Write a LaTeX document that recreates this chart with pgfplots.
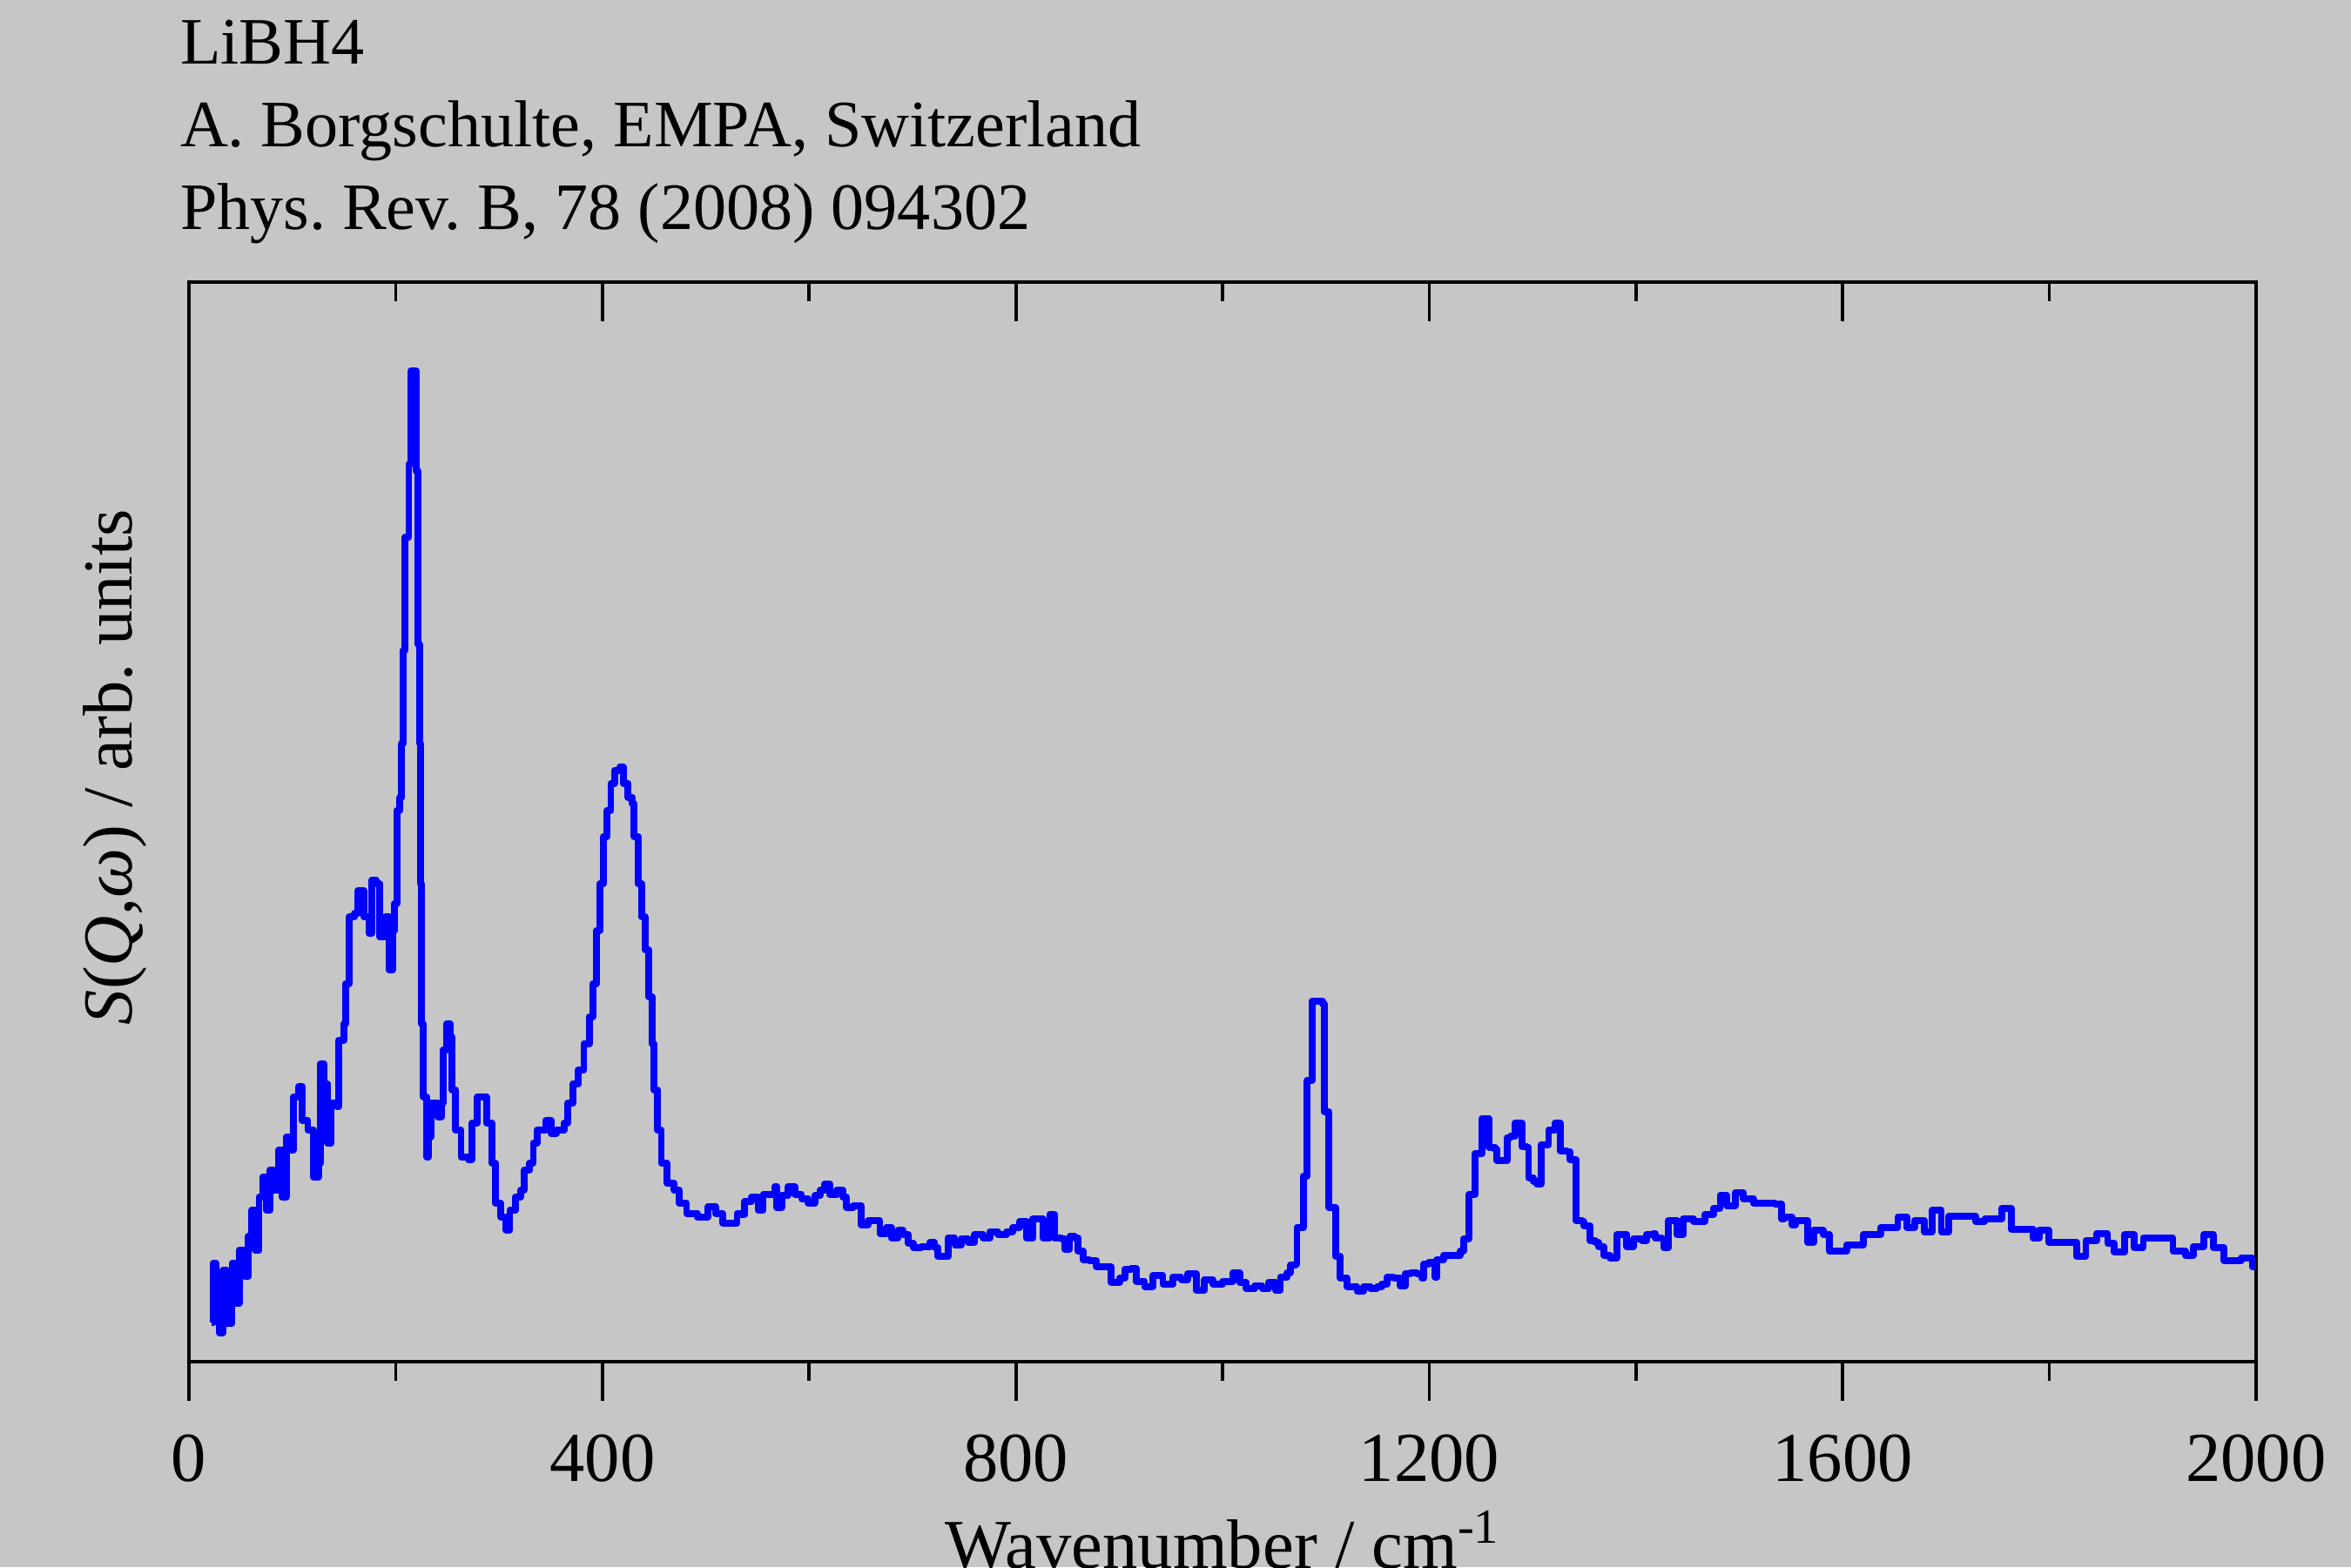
\documentclass[border=0pt]{standalone}
\usepackage{pgfplots}
\pgfplotsset{compat=1.18}
\usepackage{fontspec}
\setmainfont{Liberation Serif}
\definecolor{bg}{RGB}{198,198,198}
\definecolor{curve}{RGB}{0,0,255}
\begin{document}
\frenchspacing
\begin{tikzpicture}
\path[use as bounding box, fill=bg] (-57.9pt,-63pt) rectangle (662.1pt,417pt);
\pgfplotsset{
  myaxis/.style={
    at={(0pt,0pt)}, anchor=south west, scale only axis,
    width=633pt, height=330.6pt,
    xmin=0, xmax=2000, ymin=0, ymax=1240,
    axis line style={line width=1.2pt, black},
    xtick={0,400,...,2000}, minor xtick={200,600,...,1800},
    ytick=\empty,
    major tick length=12pt, minor tick length=6pt,
    tick style={line width=1pt, black},
    /pgf/number format/assume math mode=true,
    /pgf/number format/1000 sep={},
  }
}
\begin{axis}[myaxis, xtick pos=top, tick align=inside, xticklabels={}]
\end{axis}
\begin{axis}[myaxis, xtick pos=bottom, tick align=outside,
  xticklabel style={font=\fontsize{21.5}{25}\selectfont, anchor=base, yshift=-24.7pt}]
\addplot[const plot, color=curve, line width=2.1pt, line join=round] coordinates {
(21.5,45)(23.4,113)(26.0,60)(29.3,33)(32.8,105)(36.3,44)(41.6,113)(45.0,67)(48.5,128)(53.8,98)
(57.3,144)(60.8,174)(64.2,128)(67.7,189)(71.2,212)(74.7,174)(78.2,220)(81.7,197)(86.9,243)(90.4,189)
(93.9,258)(97.4,243)(100.9,304)(106.1,316)(109.6,277)(114.9,266)(120.1,212)(125.3,228)(127.1,342)(130.6,319)
(134.1,251)(137.6,297)(142.8,293)(144.5,369)(149.8,388)(151.5,434)(155.0,511)(160.3,515)(163.7,541)(169.0,511)
(174.2,492)(177.0,553)(181.2,549)(184.7,488)(189.9,511)(193.4,450)(196.9,495)(198.7,526)(201.1,633)(203.9,648)
(205.6,710)(207.4,817)(209.1,947)(212.6,1031)(214.4,1138)(219.6,1023)(221.3,824)(223.1,710)(224.1,549)(224.8,388)
(226.6,304)(230.1,235)(231.8,258)(234.3,297)(240.5,281)(244.0,297)(245.8,358)(249.3,388)(252.8,373)(254.5,312)
(258.0,266)(263.2,235)(270.2,232)(273.7,274)(278.9,304)(284.2,304)(287.7,274)(292.9,228)(296.4,182)(301.6,166)
(306.9,151)(310.4,174)(315.6,189)(320.8,197)(324.3,220)(329.6,228)(333.1,251)(336.6,266)(345.3,277)(350.5,262)
(355.7,266)(362.7,274)(366.2,297)(371.5,319)(376.7,335)(382.0,365)(387.2,396)(390.7,434)(394.2,495)(397.6,549)
(401.1,603)(404.6,633)(408.1,664)(411.6,679)(416.8,683)(420.3,664)(424.9,648)(429.1,641)(430.8,603)(434.3,549)
(437.8,511)(441.3,473)(444.8,419)(448.3,365)(450.0,312)(453.5,266)(457.0,228)(462.2,205)(469.2,197)(474.4,182)
(481.4,170)(491.9,166)(502.4,178)(509.4,170)(516.3,159)(525.1,159)(530.3,170)
(533,169)(537.8,184)(544.3,189)(550.7,174)(555.6,192)(562,192)(566.8,201)(568.5,177)(573.3,191)(579.7,201)
(586.2,192)(592.6,187)(599.1,182)(605.5,191)(610.4,197)(615.2,204)(620,192)(626.5,197)(632.9,189)(636.1,177)
(642.6,179)(649,179)(650.6,157)(657.1,162)(663.5,162)(668.4,147)(674.8,154)(679.6,142)(686.1,151)(690.9,146)
(695.8,136)(700.6,131)(708.7,132)(716.7,137)(721.5,131)(724.8,121)(729.6,121)(734.4,142)(740.9,134)(747.3,141)
(753.8,137)(760.2,146)(768.3,142)(774.7,149)(782.8,146)(790.8,149)(797.3,154)(803.7,161)(810.2,142)(816.6,164)
(821.5,164)(826.3,142)(832.7,169)(837.6,142)(844,141)(847.2,129)(852.1,144)(856.9,142)(860.1,127)(865,117)
(871.4,116)(877.9,109)(887.5,109)(892.4,91)(900.4,96)(905.3,106)(911.7,107)(916.5,92)(924.6,86)(932.7,99)
(942.3,89)(952,97)(960,94)(966.5,101)(974.6,82)(982.6,94)(990.7,89)(1000.3,92)(1010,102)(1016.5,91)
(1022.9,84)(1031,87)
(1038.3,84)(1044.7,91)(1051.2,82)(1056,97)(1062.5,102)(1065.7,111)(1070.5,112)(1072,154)(1078,213)(1082,323)
(1086.6,414)(1096.8,411)(1098.3,287)(1103,177)(1109.2,121)(1114,96)(1120.5,86)(1130.2,81)(1136.6,86)(1143.1,84)
(1149.5,86)(1154.3,89)(1159.2,97)(1165.6,96)(1172.1,87)(1176.9,101)(1181.7,102)(1188.2,101)(1193,96)(1194.6,112)
(1199.5,114)(1205.9,97)(1207.5,117)(1213.9,122)(1223.6,122)(1230.1,127)(1233.3,141)(1238.5,192)(1244.6,239)(1251,279)
(1258,246)(1263.9,244)(1265.5,231)(1272,231)(1275.2,257)(1278.4,259)(1283,274)(1289.7,247)(1294.5,246)(1296.1,211)
(1301,207)(1304.2,204)(1308,249)(1313.9,249)(1315.5,266)(1321.9,274)(1326.8,242)(1333.2,241)(1336.4,232)(1342,162)
(1347.7,161)(1349.3,156)(1355.8,139)(1360.6,137)(1363.8,132)(1368.7,122)(1375.1,119)(1381.5,146)(1389.6,146)(1391.2,132)
(1397.7,141)(1405.7,139)(1410.6,146)(1417,147)(1418.6,142)(1425.1,141)(1426.7,131)(1431.5,162)(1439.6,146)(1446,164)
(1455.7,161)(1467,169)(1475,176)(1481.5,191)(1487.9,179)(1496,194)(1504,187)(1513.7,182)(1534.6,181)(1541.1,164)
(1543.6,166)(1551.1,157)(1554.1,162)(1566.2,137)(1572.2,151)(1581.2,146)(1587.2,127)(1603.8,134)(1620.3,146)(1636.8,154)
(1653.4,166)(1662.4,154)(1669.9,162)(1679,149)(1686.5,174)(1695.5,149)(1703,167)(1728.6,161)(1737.6,164)(1754.2,176)
(1763.2,152)(1784.2,142)(1790.3,151)(1799.3,137)(1826.4,121)(1835.4,139)(1845.9,147)(1856.4,136)(1862.4,126)(1873,146)
(1882,131)(1891,142)(1919.6,127)(1931.6,122)(1939.2,132)(1949.7,146)(1958.7,131)(1969.2,116)(1985.8,119)(1996.3,109)
(2000,109)
};
\end{axis}
\begin{scope}[every node/.style={inner sep=0pt, font=\fontsize{20.3}{25}\selectfont}]
\node[anchor=base west] at (-2.9pt,397.5pt) {LiBH4};
\node[anchor=base west] at (-2.9pt,372.1pt) {A. Borgschulte, EMPA, Switzerland};
\node[anchor=base west] at (-2.9pt,346.7pt) {Phys. Rev. B, 78 (2008) 094302};
\node[anchor=base, font=\fontsize{21.5}{25}\selectfont] at (316.5pt,-63.3pt) {Wavenumber / cm\textsuperscript{-1}};
\node[anchor=base, rotate=90, font=\fontsize{21.5}{25}\selectfont] at (-17.5pt,182pt) {\textit{S}(\textit{Q},\textit{ω}) / arb. units};
\end{scope}
\end{tikzpicture}
\end{document}
